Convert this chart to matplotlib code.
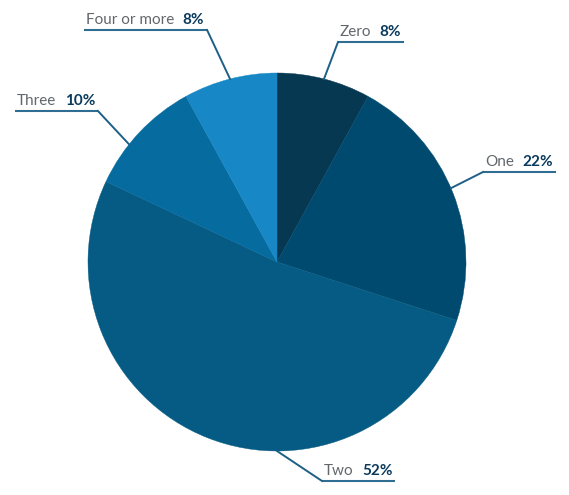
import math
import matplotlib
matplotlib.use("Agg")
import matplotlib.pyplot as plt

# data
labels = ["Zero", "One", "Two", "Three", "Four or more"]
values = [8, 22, 52, 10, 8]
colors = ["#073852", "#014a6f", "#055b83", "#066b9f", "#1787c5"]

# label layout: rim angle (deg clockwise from top), left end of underline and its y (pixels)
anchor_angles = [14.4, 67, 180, 308.5, 345.6]
line_x = [338, 483, 322, 15, 84]
line_y = [42, 172, 481, 111, 30]
sides = ["right", "right", "right", "left", "left"]

W, H = 569, 495
cx, cy, r = 277, 262, 189

plt.rcParams["font.family"] = ["Lato", "DejaVu Sans"]

fig = plt.figure(figsize=(W / 100, H / 100), dpi=100)
ax = fig.add_axes([0, 0, 1, 1])


def py(y):
    return H - y


wedges, _ = ax.pie(values, colors=colors, startangle=90, counterclock=False,
                   center=(cx, py(cy)), radius=r, frame=True)
for w, c in zip(wedges, colors):
    w.set_edgecolor(c)
    w.set_linewidth(0.3)
ax.set_xlim(0, W)
ax.set_ylim(0, H)
ax.set_aspect("equal")
ax.axis("off")

line_col = "#1d5f86"
renderer = fig.canvas.get_renderer()

for name, val, ang, lx, ly, side in zip(labels, values, anchor_angles, line_x, line_y, sides):
    t1 = ax.text(lx + 2, py(ly - 6), name, fontsize=11, color="#62676b",
                 ha="left", va="baseline")
    t2 = ax.annotate(f"{val}%", xy=(1, 0), xycoords=t1, xytext=(6, 0),
                     textcoords="offset points", fontsize=11, fontweight="bold",
                     color="#0b3a5c", ha="left", va="bottom")
    bb = t2.get_window_extent(renderer)
    x_end = ax.transData.inverted().transform((bb.x1, 0))[0] + 3
    ax.plot([lx, x_end], [py(ly), py(ly)], color="#2f6d92", lw=1.5,
            solid_capstyle="butt")
    a = math.radians(ang)
    sx = cx + r * math.sin(a)
    sy = cy - r * math.cos(a)
    ex = lx if side == "right" else x_end
    ax.plot([sx, ex], [py(sy), py(ly)], color=line_col, lw=1.4)

fig.savefig("out.png", dpi=100)
